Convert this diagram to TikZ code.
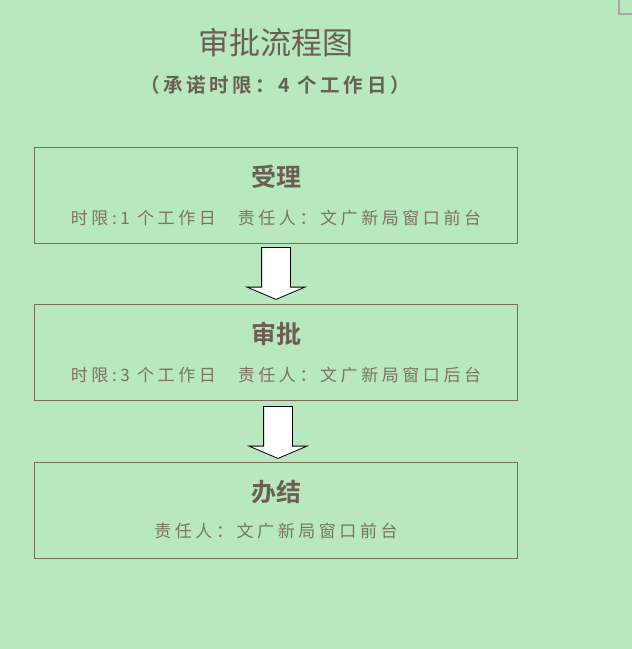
\documentclass[tikz,border=0pt]{standalone}
\usepackage{fontspec}
\usetikzlibrary{shapes.arrows}
\newfontfamily\cjk[BoldFont={Noto Sans CJK SC Bold}]{Noto Sans CJK SC}
\newfontfamily\cjkspaced[LetterSpace=21]{Noto Sans CJK SC}
\newfontfamily\cjkwide[LetterSpace=18]{Noto Sans CJK SC Bold}
\definecolor{pagebg}{HTML}{B7E8BE}
\definecolor{boxline}{HTML}{7A6A5A}
\definecolor{headtext}{HTML}{6B5E52}
\definecolor{bodytext}{HTML}{7E7262}
\tikzset{
  stagebox/.style={draw=boxline,minimum width=483pt,minimum height=96pt,inner sep=0pt},
  stagehead/.style={font=\cjk\bfseries\fontsize{25pt}{25pt}\selectfont,text=headtext},
  stagebody/.style={font=\cjkspaced\fontsize{17pt}{17pt}\selectfont,text=bodytext},
  downarrow/.style={single arrow,draw=black,fill=white,line width=.8pt,shape border rotate=270,
    minimum height=52pt,inner sep=14pt,single arrow head extend=14.5pt,
    single arrow tip angle=134,anchor=tail}
}
\begin{document}
\begin{tikzpicture}[x=1pt,y=-1pt]
    \useasboundingbox[fill=pagebg] (0,0) rectangle (632,649);
    \draw[draw=black!35,line width=1.5pt] (619,0) -- (619,14) -- (632,14);

    \node[font=\cjk\fontsize{31pt}{31pt}\selectfont,text=headtext] (title) at (276,43) {审批流程图};
    \node[font=\cjkwide\fontsize{19.5pt}{19.5pt}\selectfont,text=headtext] (subtitle) at (275,85) {（承诺时限：4 个工作日）};

    \node[stagebox] (accept) at (275.5,195) {};
    \node[stagehead] (accepthead) at (276,177) {受理};
    \node[stagebody] (acceptbody) at (276,218) {时限:1 个工作日\hspace{22pt}责任人：文广新局窗口前台};

    \node[stagebox] (approve) at (275.5,352) {};
    \node[stagehead] (approvehead) at (276,334) {审批};
    \node[stagebody] (approvebody) at (276,375) {时限:3 个工作日\hspace{22pt}责任人：文广新局窗口后台};

    \node[stagebox] (finish) at (275.5,510) {};
    \node[stagehead] (finishhead) at (276,492) {办结};
    \node[stagebody] (finishbody) at (276,531) {责任人：文广新局窗口前台};

    \node[downarrow] (arrowa) at (276,247) {};
    \node[downarrow] (arrowb) at (278,406) {};
  \end{tikzpicture}
\end{document}
